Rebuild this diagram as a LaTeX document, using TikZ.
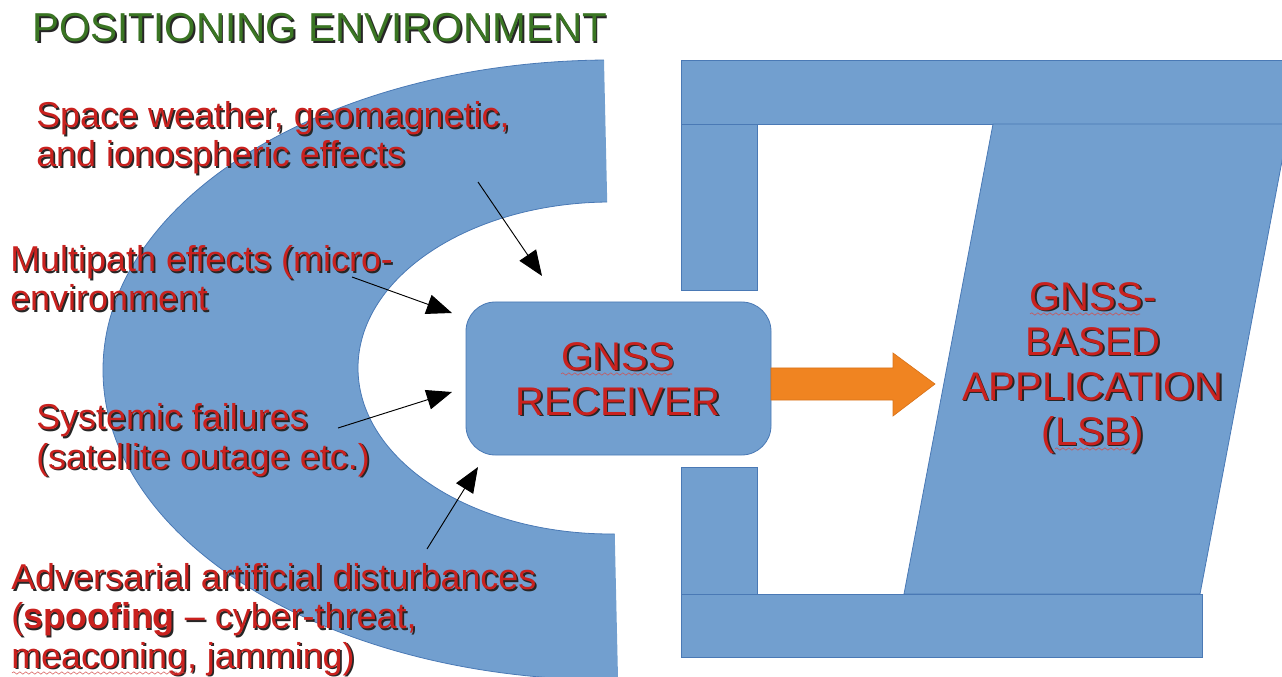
\documentclass[tikz,border=0pt]{standalone}
\usepackage{fontspec}
\setmainfont{Liberation Sans}
\usetikzlibrary{arrows.meta,decorations.pathmorphing}
\definecolor{fillblue}{HTML}{729FCF}
\definecolor{edgeblue}{HTML}{4A79B5}
\definecolor{txtred}{HTML}{C9211E}
\definecolor{ttlgreen}{HTML}{3A7523}
\definecolor{arrorange}{HTML}{F08421}
\definecolor{arredge}{HTML}{D9731A}
\newcommand\shtext[4]{%
  \node[#3, text=black!85, xshift=1.3pt, yshift=-1.3pt] (#1s) at #2 {#4};
  \node[#3] (#1) at #2 {#4};}
\begin{document}
\begin{tikzpicture}[x=0.75pt,y=-0.75pt,
  blk/.style={fill=fillblue, draw=edgeblue, line width=0.6pt},
  lbl/.style={font=\fontsize{26.95}{29.4}\selectfont, text=txtred, align=left, inner sep=0pt, anchor=base west},
  ttl/.style={font=\fontsize{30.3}{34}\selectfont, text=ttlgreen, inner sep=0pt, anchor=base west},
  bigtxt/.style={font=\fontsize{30}{33.75}\selectfont, text=txtred, align=center, inner sep=0pt, anchor=base},
  pointer/.style={draw=black, line width=0.7pt, -{Triangle[length=19pt,width=15pt]}},
  wavy/.style={draw=txtred!80, line width=0.4pt, decorate, decoration={snake, amplitude=0.9pt, segment length=4.5pt}}
]
\useasboundingbox (0,0) rectangle (1282,677);

% positioning environment arch
\begin{scope}
  \clip (-10,-10) -- (602.4,-10) -- (618.5,700) -- (-10,700) -- cycle;
  \fill[fillblue, even odd rule] (611,370) ellipse [x radius=508, y radius=310]
                                  (611,368) ellipse [x radius=253, y radius=166];
  \draw[edgeblue, line width=0.6pt] (611,370) ellipse [x radius=508, y radius=310]
                                     (611,368) ellipse [x radius=253, y radius=166];
\end{scope}

% application frame
\draw[blk] (681,60) rectangle (1290,124);
\draw[blk] (681,124) rectangle (757,290);
\draw[blk] (681,467) rectangle (757,594);
\draw[blk] (993,124) -- (1289,124) -- (1200,594) -- (904,594) -- cycle;
\draw[blk] (681,594) rectangle (1202,657);

% receiver box
\node[blk, rounded corners=22pt, minimum width=228.75pt, minimum height=114.75pt, inner sep=0pt] (rcv) at (618.5,378.5) {};

% orange arrow
\draw[fill=arrorange, draw=arredge, line width=0.5pt] (771,368) -- (893,368) -- (893,353) -- (935,384) -- (893,416) -- (893,400) -- (771,400) -- cycle;

% texts (anchor = baseline of the last line)
\shtext{title}{(32,42)}{ttl}{POSITIONING ENVIRONMENT}
\shtext{space}{(36,167)}{lbl}{Space weather, geomagnetic,\\and ionospheric effects}
\shtext{multi}{(10,311)}{lbl}{Multipath effects (micro-\\environment}
\shtext{syst}{(36,469)}{lbl}{Systemic failures\\(satellite outage etc.)}
\shtext{adv}{(11,668)}{lbl}{Adversarial artificial disturbances\\(\textbf{spoofing} -- cyber-threat,\\meaconing, jamming)}
\shtext{rcvtxt}{(618,415)}{bigtxt}{GNSS\\RECEIVER}
\shtext{apptxt}{(1093,445)}{bigtxt}{GNSS-\\BASED\\APPLICATION\\(LSB)}

% spell-check underlines
\draw[wavy] (561,374) -- (672,374);
\draw[wavy] (1030,314) -- (1140,314);
\draw[wavy] (1055,449) -- (1130,449);
\draw[wavy] (12,673) -- (186,673);

% pointers
\coordinate (t1) at (478,182); \coordinate (h1) at (542,276);
\coordinate (t2) at (352,277); \coordinate (h2) at (452,313);
\coordinate (t3) at (338,428); \coordinate (h3) at (452,392);
\coordinate (t4) at (427,549); \coordinate (h4) at (478,467);
\draw[pointer] (t1) -- (h1);
\draw[pointer] (t2) -- (h2);
\draw[pointer] (t3) -- (h3);
\draw[pointer] (t4) -- (h4);
\end{tikzpicture}
\end{document}
